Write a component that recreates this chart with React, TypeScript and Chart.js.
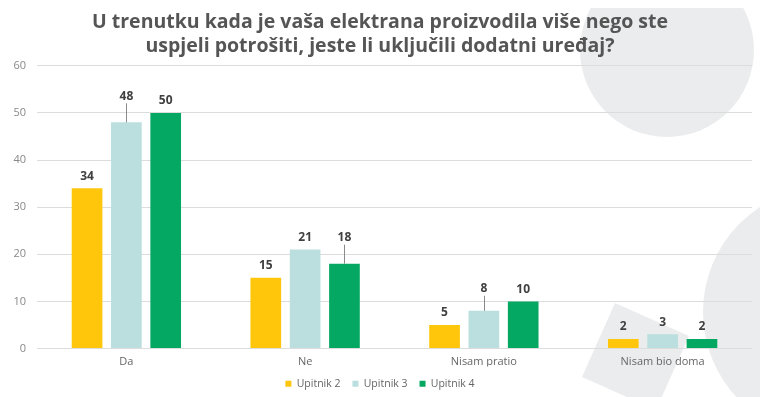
import React, { useEffect, useRef } from "react";
import { Chart, registerables } from "chart.js";

Chart.register(...registerables);

const categories = ["Da", "Ne", "Nisam pratio", "Nisam bio doma"];
const upitnik2 = [34, 15, 5, 2];
const upitnik3 = [48, 21, 8, 3];
const upitnik4 = [50, 18, 10, 2];
const seriesNames = ["Upitnik 2", "Upitnik 3", "Upitnik 4"];
const yTicks = [0, 10, 20, 30, 40, 50, 60];
const titleLines = [
  "U trenutku kada je vaša elektrana proizvodila više nego ste",
  "uspjeli potrošiti, jeste li uključili dodatni uređaj?",
];

const COLORS = ["#FFC60B", "#BADFDE", "#05A862"];
const FONT = "'Open Sans', 'DejaVu Sans', sans-serif";
// label lifts (px) for labels drawn with a leader line
const LIFTS = [
  [0, 0, 0, 0],
  [14, 0, 10, 0],
  [0, 14, 0, 0],
];

const bgPlugin = {
  id: "bgShapes",
  beforeDraw(chart: any) {
    const ctx = chart.ctx;
    ctx.save();
    ctx.fillStyle = "#EBECED";
    ctx.beginPath();
    ctx.arc(659, 42, 87, 0, Math.PI * 2);
    ctx.fill();
    ctx.beginPath();
    ctx.arc(820, 304, 125, 0, Math.PI * 2);
    ctx.fill();
    ctx.beginPath();
    ctx.moveTo(607, 295);
    ctx.lineTo(681, 328);
    ctx.lineTo(648, 402);
    ctx.lineTo(574, 369);
    ctx.closePath();
    ctx.fill();
    ctx.restore();
  },
};

const labelPlugin = {
  id: "valueLabels",
  afterDatasetsDraw(chart: any) {
    const ctx = chart.ctx;
    ctx.save();
    ctx.font = `bold 12px ${FONT}`;
    ctx.fillStyle = "#404040";
    ctx.textAlign = "center";
    ctx.textBaseline = "middle";
    chart.data.datasets.forEach((ds: any, di: number) => {
      const meta = chart.getDatasetMeta(di);
      meta.data.forEach((bar: any, i: number) => {
        const lift = LIFTS[di][i];
        const ly = bar.y - 12 - lift;
        ctx.fillText(String(ds.data[i]), bar.x, ly);
        if (lift > 0) {
          ctx.strokeStyle = "#8a8a8a";
          ctx.lineWidth = 1;
          ctx.beginPath();
          ctx.moveTo(Math.round(bar.x) + 0.5, ly + 7);
          ctx.lineTo(Math.round(bar.x) + 0.5, bar.y);
          ctx.stroke();
        }
      });
    });
    ctx.restore();
  },
};

export default function App() {
  const ref = useRef<HTMLCanvasElement | null>(null);
  useEffect(() => {
    if (!ref.current) return;
    const data = [upitnik2, upitnik3, upitnik4];
    const chart = new Chart(ref.current, {
      type: "bar",
      data: {
        labels: categories,
        datasets: seriesNames.map((name, i) => ({
          label: name,
          data: data[i],
          backgroundColor: COLORS[i],
          borderWidth: 0,
          categoryPercentage: 0.66,
          barPercentage: 0.78,
        })),
      },
      options: {
        animation: false,
        responsive: true,
        maintainAspectRatio: false,
        layout: { padding: { top: 0, right: 8, left: 0, bottom: 0 } },
        plugins: {
          title: {
            display: true,
            text: titleLines,
            color: "#555555",
            font: { family: FONT, size: 19.5, weight: "bold", lineHeight: 1.25 },
            padding: { top: 2, bottom: 7 },
          },
          legend: {
            position: "bottom",
            labels: {
              boxWidth: 6,
              boxHeight: 6,
              color: "#666666",
              font: { family: FONT, size: 10.5 },
              padding: 12,
            },
          },
          tooltip: { enabled: false },
        },
        scales: {
          x: {
            grid: { display: false, drawTicks: false },
            border: { display: false },
            afterFit: (axis: any) => {
              axis.height = 18;
            },
            ticks: { color: "#666666", font: { family: FONT, size: 11 }, padding: 7 },
          },
          y: {
            min: 0,
            max: 60,
            afterBuildTicks: (axis: any) => {
              axis.ticks = yTicks.map((v) => ({ value: v }));
            },
            afterFit: (axis: any) => {
              axis.width = 29;
            },
            grid: { color: "#DCDCDC", drawTicks: false },
            border: { display: false },
            ticks: { color: "#888888", font: { family: FONT, size: 11 }, padding: 11 },
          },
        },
      },
      plugins: [bgPlugin, labelPlugin],
    });
    return () => chart.destroy();
  }, []);
  return (
    <div style={{ height: 391, position: "relative" }}>
      <canvas ref={ref} />
    </div>
  );
}
